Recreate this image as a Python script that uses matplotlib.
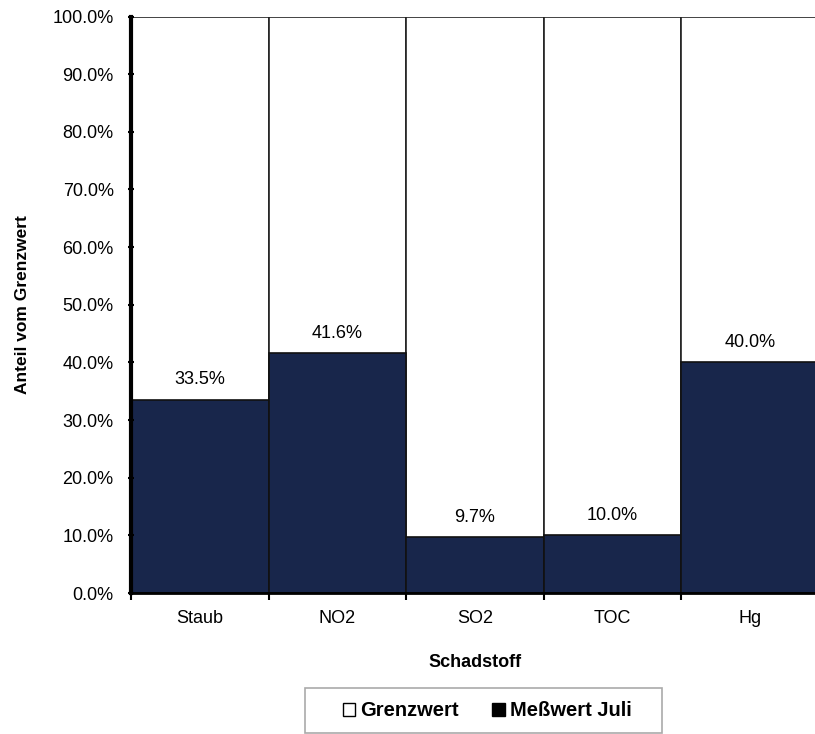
import matplotlib.pyplot as plt
from matplotlib.patches import Patch, Rectangle
from matplotlib.ticker import FuncFormatter, MultipleLocator

plt.rcParams["font.family"] = ["Liberation Sans", "DejaVu Sans"]

schadstoffe = ["Staub", "NO2", "SO2", "TOC", "Hg"]
grenzwert = [100.0, 100.0, 100.0, 100.0, 100.0]
messwert_juli = [33.5, 41.6, 9.7, 10.0, 40.0]

navy = "#18264b"

fig = plt.figure(figsize=(8.15, 7.34), dpi=100)
ax = fig.add_axes([131 / 815, 1 - 593 / 734, 688 / 815, 576.5 / 734])

x = [i + 0.5 for i in range(len(schadstoffe))]
ax.bar(x, grenzwert, width=1.0, color="white", edgecolor="#222222", linewidth=1.2)
ax.bar(x, messwert_juli, width=1.0, color=navy, edgecolor="#111111", linewidth=1.2)

for xi, v in zip(x, messwert_juli):
    ax.text(xi, v + 2.0, f"{v:.1f}%", ha="center", va="bottom", fontsize=13)

ax.set_xlim(0, 5)
ax.set_ylim(0, 100)
ax.yaxis.set_major_locator(MultipleLocator(10))
ax.yaxis.set_major_formatter(FuncFormatter(lambda v, p: f"{v:.1f}%"))
ax.set_xticks(range(6))
ax.set_xticklabels([])
ax.set_xticks(x, minor=True)
ax.set_xticklabels(schadstoffe, minor=True)
ax.tick_params(axis="x", which="minor", length=0, pad=12, labelsize=13)
ax.tick_params(axis="x", which="major", length=5, width=1.5, direction="out")
ax.tick_params(axis="y", length=5, width=1.5, direction="inout", labelsize=13, pad=10)

for side in ["top", "right"]:
    ax.spines[side].set_visible(False)
ax.spines["left"].set_linewidth(3)
ax.spines["bottom"].set_linewidth(2)

ax.set_ylabel("Anteil vom Grenzwert", fontsize=12.5, fontweight="bold", labelpad=16)
ax.set_xlabel("Schadstoff", fontsize=13, fontweight="bold", labelpad=20)

# legend box drawn by hand so the padding matches
fig.patches.append(Rectangle((305 / 815, 1 - 733 / 734), 357 / 815, 45 / 734,
                             transform=fig.transFigure, facecolor="white",
                             edgecolor="#aaaaaa", linewidth=1.2))
handles = [
    Patch(facecolor="white", edgecolor="black", label="Grenzwert"),
    Patch(facecolor="black", edgecolor="black", label="Meßwert Juli"),
]
leg = fig.legend(handles=handles, loc="center", bbox_to_anchor=(487 / 815, 1 - 711 / 734),
                 ncol=2, frameon=False, prop={"weight": "bold", "size": 14.5},
                 handlelength=0.6, handleheight=0.6, handletextpad=0.25,
                 columnspacing=1.7, borderpad=0, borderaxespad=0)

fig.savefig("out.png", dpi=100)
